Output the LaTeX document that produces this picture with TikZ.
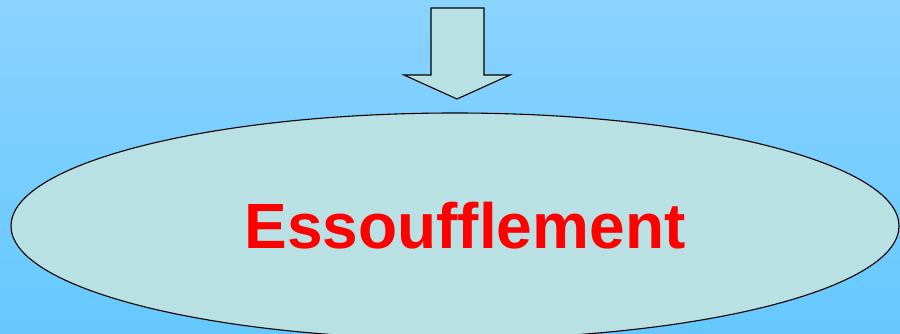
\documentclass[tikz,border=0pt]{standalone}
\usepackage{fontspec}
\setmainfont{Liberation Sans}
\usetikzlibrary{shapes.geometric}
\definecolor{bgtop}{HTML}{8AD3FE}
\definecolor{bgbot}{HTML}{66C8FE}
\definecolor{fillc}{HTML}{B9E0E2}
\tikzset{shapestyle/.style={draw=black, line width=1.1pt, fill=fillc}}
\begin{document}
\begin{tikzpicture}[x=1pt,y=1pt]
\useasboundingbox (0,0) rectangle (900,-334);
\shade[top color=bgtop, bottom color=bgbot] (0,0) rectangle (900,-334);
\begin{scope}
\clip (0,0) rectangle (900,-334);
\node[shapestyle, ellipse, minimum width=888pt, minimum height=226pt, inner sep=0pt] (ell) at (455,-226) {};
\end{scope}
\draw[shapestyle, line join=miter] (431,-8) -- (484,-8) -- (484,-75) -- (510,-75) -- (457,-99) -- (404,-75) -- (431,-75) -- cycle;
\coordinate (arrowtip) at (457,-99);
\node[text=red, font=\bfseries\fontsize{64}{64}\selectfont, anchor=base] (txt) at (465,-248) {Essoufflement};
\end{tikzpicture}
\end{document}
